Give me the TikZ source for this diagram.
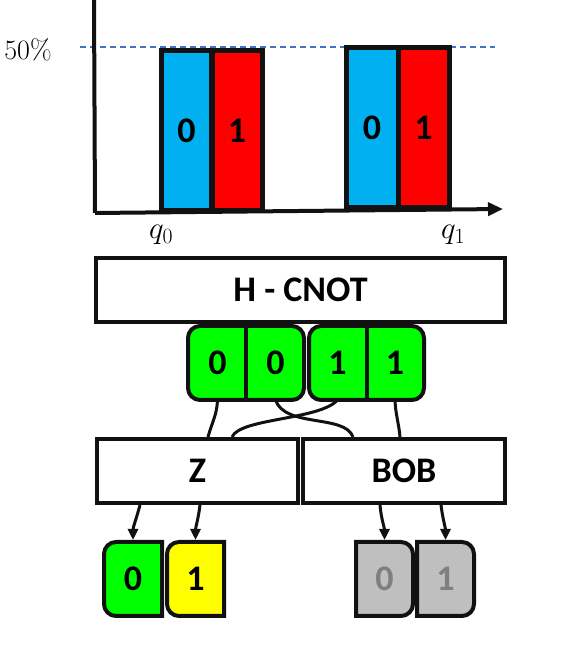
\RequirePackage{fix-cm}
\documentclass[tikz,border=0pt]{standalone}
\usepackage{fontspec}
\usepackage{tikz}
\usetikzlibrary{arrows.meta, positioning, calc, backgrounds}
\newfontfamily\calibri{Carlito}
\definecolor{ink}{RGB}{17,17,17}
\definecolor{barblue}{RGB}{0,176,240}
\definecolor{barred}{RGB}{255,0,0}
\definecolor{bitgreen}{RGB}{0,255,0}
\definecolor{bityellow}{RGB}{255,255,0}
\definecolor{bitgray}{RGB}{191,191,191}
\definecolor{bitgraytext}{RGB}{127,127,127}
\definecolor{dashblue}{RGB}{68,114,196}
\tikzset{
  bigbold/.style={font=\calibri\bfseries\fontsize{36}{40}\selectfont},
  bar/.style={rectangle, draw=ink, line width=5pt, minimum width=50pt,
    minimum height=160pt, inner sep=0pt, bigbold},
  gatebox/.style={rectangle, draw=ink, fill=white, line width=4pt,
    minimum height=64pt, inner sep=0pt, bigbold},
  pairbox/.style={rectangle, draw=ink, fill=bitgreen, line width=4pt,
    rounded corners=12pt, minimum width=116pt, minimum height=74pt},
  cell/.style={rectangle, minimum width=58pt, minimum height=74pt,
    inner sep=0pt, outer sep=0pt, bigbold},
  cellline/.style={draw=ink, line width=4pt},
  axis/.style={line width=4pt, color=ink},
  wire/.style={line width=3pt, color=ink},
  arrow/.style={-{Triangle[length=11pt,width=10pt]}, line width=3pt,
    color=ink, shorten >=2pt}
}
\begin{document}
\begin{tikzpicture}[x=1pt, y=1pt]
  \useasboundingbox (0,0) rectangle (566,664);
  % chart
  \draw[dashblue, line width=1.3pt, dash pattern=on 6pt off 4pt] (80,617) -- (495,617);
  \coordinate (ytop) at (94,664);
  \coordinate (origin) at (95,451);
  \coordinate (xend) at (503,455);
  \draw[axis] (ytop) -- (origin);
  \draw[axis, -{Triangle[length=15pt,width=13pt]}] (origin) -- (xend);
  \node[bar, fill=barblue] (b00) at (186.5,533) {0};
  \node[bar, fill=barred] (b01) at (237,533) {1};
  \node[bar, fill=barblue, minimum width=52pt] (b10) at (372,536) {0};
  \node[bar, fill=barred, minimum width=51pt] (b11) at (423.5,536) {1};
  \node[font=\fontsize{28}{32}\selectfont] (pct) at (28,614) {50\%};
  \node[font=\fontsize{31}{36}\selectfont] (q0) at (161,429) {$q_0$};
  \node[font=\fontsize{31}{36}\selectfont] (q1) at (453,429) {$q_1$};
  % gates and bits
  \node[gatebox, minimum width=409pt] (hcnot) at (300.5,374) {H - CNOT};
  \node[pairbox] (pair0) at (246,301) {};
  \node[pairbox, minimum width=115pt] (pair1) at (366.5,301) {};
  \node[cell] (c00) at (217.5,301) {0};
  \node[cell] (c01) at (275.5,301) {0};
  \node[cell] (c10) at (337.5,301) {1};
  \node[cell] (c11) at (395,301) {1};
  \draw[cellline] (pair0.north) -- (pair0.south);
  \draw[cellline] (pair1.north) -- (pair1.south);
  \node[gatebox, minimum width=201pt] (z) at (197.5,193) {Z};
  \node[gatebox, minimum width=202pt] (bob) at (404,193) {BOB};
  \draw[wire] (c00.south) to[out=-92, in=75] ($(z.north)+(10.5,0)$);
  \draw[wire] (c01.south) .. controls (285,236) and (345,250) .. ($(bob.north)+(-51,0)$);
  \draw[wire] (c10.south) .. controls (320,244) and (240,246) .. ($(z.north)+(34.5,0)$);
  \draw[wire] (c11.south) to[out=-88, in=95] ($(bob.north)+(-4,0)$);
  % measured bits
  \node[cell] (m0) at (133,85) {0};
  \node[cell, minimum width=57pt] (m1) at (195.5,85) {1};
  \node[cell, minimum width=57pt, text=bitgraytext] (m2) at (384.5,85) {0};
  \node[cell, minimum width=57pt, text=bitgraytext] (m3) at (445.5,85) {1};
  \begin{scope}[on background layer]
    \draw[cellline, fill=bitgreen] (m0.north east) [rounded corners=12pt]
      -- (m0.north west) -- (m0.south west) [sharp corners] -- (m0.south east) -- cycle;
    \draw[cellline, fill=bityellow] (m1.north east) [rounded corners=12pt]
      -- (m1.north west) -- (m1.south west) [sharp corners] -- (m1.south east) -- cycle;
    \draw[cellline, fill=bitgray] (m2.north west) [rounded corners=12pt]
      -- (m2.north east) -- (m2.south east) [sharp corners] -- (m2.south west) -- cycle;
    \draw[cellline, fill=bitgray] (m3.north west) [rounded corners=12pt]
      -- (m3.north east) -- (m3.south east) [sharp corners] -- (m3.south west) -- cycle;
  \end{scope}
  \draw[arrow] ($(z.south)+(-57.5,0)$) to[out=-105, in=90] (m0.north);
  \draw[arrow] ($(z.south)+(2.5,0)$) to[out=-97, in=90] (m1.north);
  \draw[arrow] ($(bob.south)+(-24,0)$) to[out=-85, in=90] (m2.north);
  \draw[arrow] ($(bob.south)+(37,0)$) to[out=-83, in=90] (m3.north);
\end{tikzpicture}
\end{document}
